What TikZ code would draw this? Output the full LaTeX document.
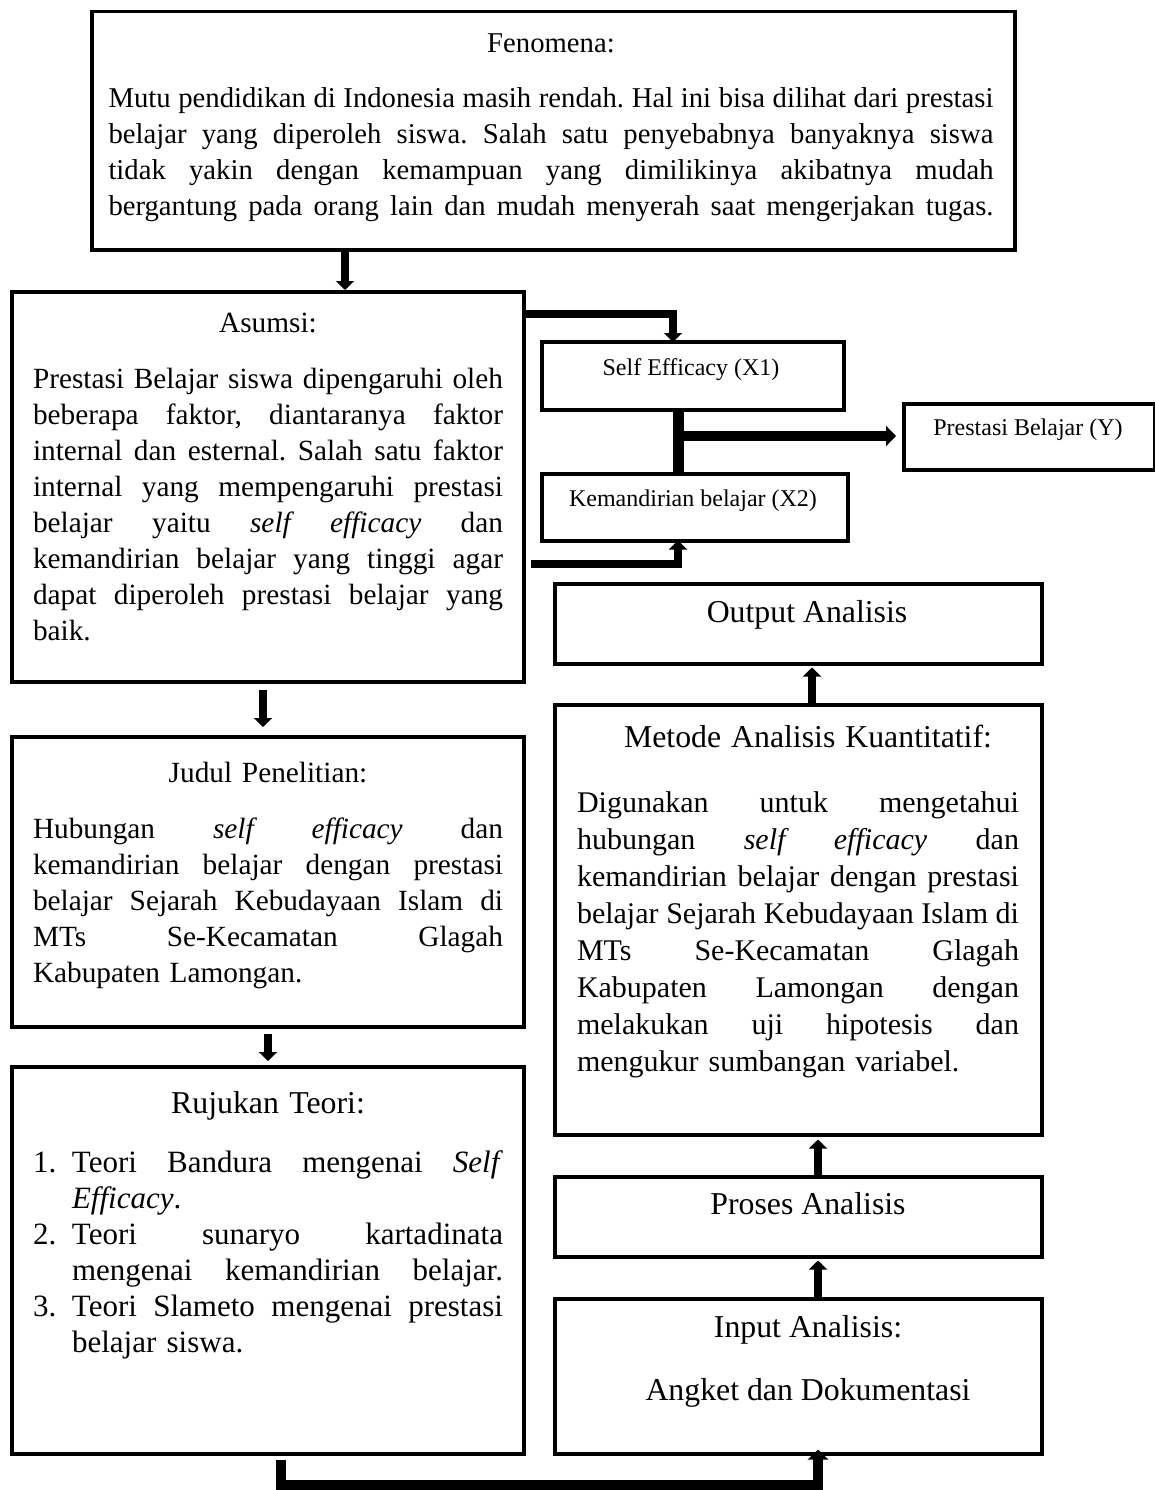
\documentclass[tikz,border=0pt]{standalone}
\usepackage{fontspec}
\setmainfont{Liberation Serif}
\usetikzlibrary{arrows.meta}
\frenchspacing
\newcommand{\JL}[2]{\leavevmode\hbox to #1{\spaceskip=.25em plus 1fil minus .1em\relax #2}}
\newcommand{\LL}[2]{\leavevmode\hbox to #1{#2\hfil}}
\newcommand{\TT}{\fontsize{31.8}{37}\selectfont}
\begin{document}
\begin{tikzpicture}[x=1pt,y=-1pt,
  box/.style={draw,line width=3.5pt,inner sep=0pt,anchor=north west},
  txt/.style={inner sep=0pt,align=center},
  fa/.style={font=\fontsize{28.7}{36}\selectfont\frenchspacing},
  fb/.style={font=\fontsize{29.3}{36}\selectfont\frenchspacing},
  fc/.style={font=\fontsize{31}{36}\selectfont\frenchspacing},
  fr/.style={font=\fontsize{30}{37}\selectfont\frenchspacing},
  ft/.style={font=\fontsize{31.8}{37}\selectfont},
  fs/.style={font=\fontsize{24}{29}\selectfont},
  arr/.style={line width=7.5pt,-{Triangle[width=18pt,length=9pt]}},
  arrb/.style={line width=9.5pt,-{Triangle[width=20pt,length=10pt]}}]
\useasboundingbox (0,0) rectangle (1155,1490);
\fill[white] (0,0) rectangle (1155,1490);
% boxes
\node[box,minimum width=923pt,minimum height=238pt] (fen) at (90,10) {};
\node[box,minimum width=512pt,minimum height=390pt] (asm) at (10,290) {};
\node[box,minimum width=302pt,minimum height=68pt] (se) at (540,340) {};
\node[box,minimum width=306pt,minimum height=67pt] (km) at (540,472) {};
\node[box,minimum width=251pt,minimum height=66pt] (py) at (902,402) {};
\node[box,minimum width=512pt,minimum height=290pt] (jud) at (10,735) {};
\node[box,minimum width=512pt,minimum height=387pt] (ruj) at (10,1065) {};
\node[box,minimum width=487pt,minimum height=80pt] (out) at (553,582) {};
\node[box,minimum width=487pt,minimum height=430pt] (met) at (553,703) {};
\node[box,minimum width=487pt,minimum height=80pt] (pro) at (553,1175) {};
\node[box,minimum width=487pt,minimum height=155pt] (inp) at (553,1297) {};
% texts
\node[txt,fa,anchor=north,text width=885pt] (fenT) at (551,26.8) {\strut Fenomena:\\[19pt]
\JL{885pt}{Mutu pendidikan di Indonesia masih rendah. Hal ini bisa dilihat dari prestasi}\\
\JL{885pt}{belajar yang diperoleh siswa. Salah satu penyebabnya banyaknya siswa}\\
\JL{885pt}{tidak yakin dengan kemampuan yang dimilikinya akibatnya mudah}\\
\JL{885pt}{bergantung pada orang lain dan mudah menyerah saat mengerjakan tugas.}};
\node[txt,fb,anchor=north,text width=470pt] (asmT) at (268,306.8) {\strut Asumsi:\\[20pt]
\JL{470pt}{Prestasi Belajar siswa dipengaruhi oleh}\\
\JL{470pt}{beberapa faktor, diantaranya faktor}\\
\JL{470pt}{internal dan esternal. Salah satu faktor}\\
\JL{470pt}{internal yang mempengaruhi prestasi}\\
\JL{470pt}{belajar yaitu \textit{self efficacy} dan}\\
\JL{470pt}{kemandirian belajar yang tinggi agar}\\
\JL{470pt}{dapat diperoleh prestasi belajar yang}\\
\LL{470pt}{baik.}};
\node[txt,fs,anchor=base] (seT) at (691,375) {Self Efficacy (X1)};
\node[txt,fs,anchor=base] (kmT) at (693,506) {Kemandirian belajar (X2)};
\node[txt,fs,anchor=base] (pyT) at (1028,435) {Prestasi Belajar (Y)};
\node[txt,fb,anchor=north,text width=470pt] (judT) at (268,756.8) {\strut Judul Penelitian:\\[20pt]
\JL{470pt}{Hubungan \textit{self efficacy} dan}\\
\JL{470pt}{kemandirian belajar dengan prestasi}\\
\JL{470pt}{belajar Sejarah Kebudayaan Islam di}\\
\JL{470pt}{MTs Se-Kecamatan Glagah}\\
\LL{470pt}{Kabupaten Lamongan.}};
\node[txt,fc,anchor=north,text width=470pt] (rujT) at (268,1087.8) {{\fontsize{31.8}{36}\selectfont\strut Rujukan Teori:}\\[23pt]
\LL{39pt}{1.}\JL{431pt}{Teori Bandura mengenai \textit{Self}}\\
\LL{39pt}{}\LL{431pt}{\textit{Efficacy}.}\\
\LL{39pt}{2.}\JL{431pt}{Teori sunaryo kartadinata}\\
\LL{39pt}{}\JL{431pt}{mengenai kemandirian belajar.}\\
\LL{39pt}{3.}\JL{431pt}{Teori Slameto mengenai prestasi}\\
\LL{39pt}{}\LL{431pt}{belajar siswa.}};
\node[txt,ft,anchor=base] (outT) at (807,622) {Output Analisis};
\node[txt,fr,anchor=north,text width=442pt] (metT) at (798,721) {{\TT\strut\hspace*{20pt}Metode Analisis Kuantitatif:}\\[28pt]
\JL{442pt}{Digunakan untuk mengetahui}\\
\JL{442pt}{hubungan \textit{self efficacy} dan}\\
\JL{442pt}{kemandirian belajar dengan prestasi}\\
\JL{442pt}{belajar Sejarah Kebudayaan Islam di}\\
\JL{442pt}{MTs Se-Kecamatan Glagah}\\
\JL{442pt}{Kabupaten Lamongan dengan}\\
\JL{442pt}{melakukan uji hipotesis dan}\\
\LL{442pt}{mengukur sumbangan variabel.}};
\node[txt,ft,anchor=base] (proT) at (808,1214) {Proses Analisis};
\node[txt,ft,anchor=north] (inpT) at (808,1311) {\strut Input Analisis:\\[26pt]Angket dan Dokumentasi};
% connectors
\coordinate (j) at (678,436);
\draw[arr] (345,0 |- fen.south) -- (345,0 |- asm.north);
\draw[arr] (asm.east |- 0,314) -| ([yshift=-2pt]673,0 |- se.north);
\draw[arr] ([xshift=5pt]asm.east |- 0,564) -| ([yshift=2pt]678,0 |- km.south);
\draw[line width=11pt] (678,0 |- se.south) -- (678,0 |- km.north);
\draw[arrb] (j) -- ([xshift=-6pt]py.west |- j);
\draw[arr,shorten <=6pt,shorten >=8pt] (263,0 |- asm.south) -- (263,0 |- jud.north);
\draw[arr,shorten <=5pt,shorten >=4pt] (268,0 |- jud.south) -- (268,0 |- ruj.north);
\draw[arrb,shorten <=4pt] (281,0 |- ruj.south) -- (281,1485) -| ([yshift=6pt]818,0 |- inp.south);
\draw[arr,shorten >=2pt] (818,0 |- inp.north) -- (818,0 |- pro.south);
\draw[arr,shorten >=3pt] (818,0 |- pro.north) -- (818,0 |- met.south);
\draw[arr,shorten >=2pt] (812,0 |- met.north) -- (812,0 |- out.south);
\end{tikzpicture}
\end{document}
